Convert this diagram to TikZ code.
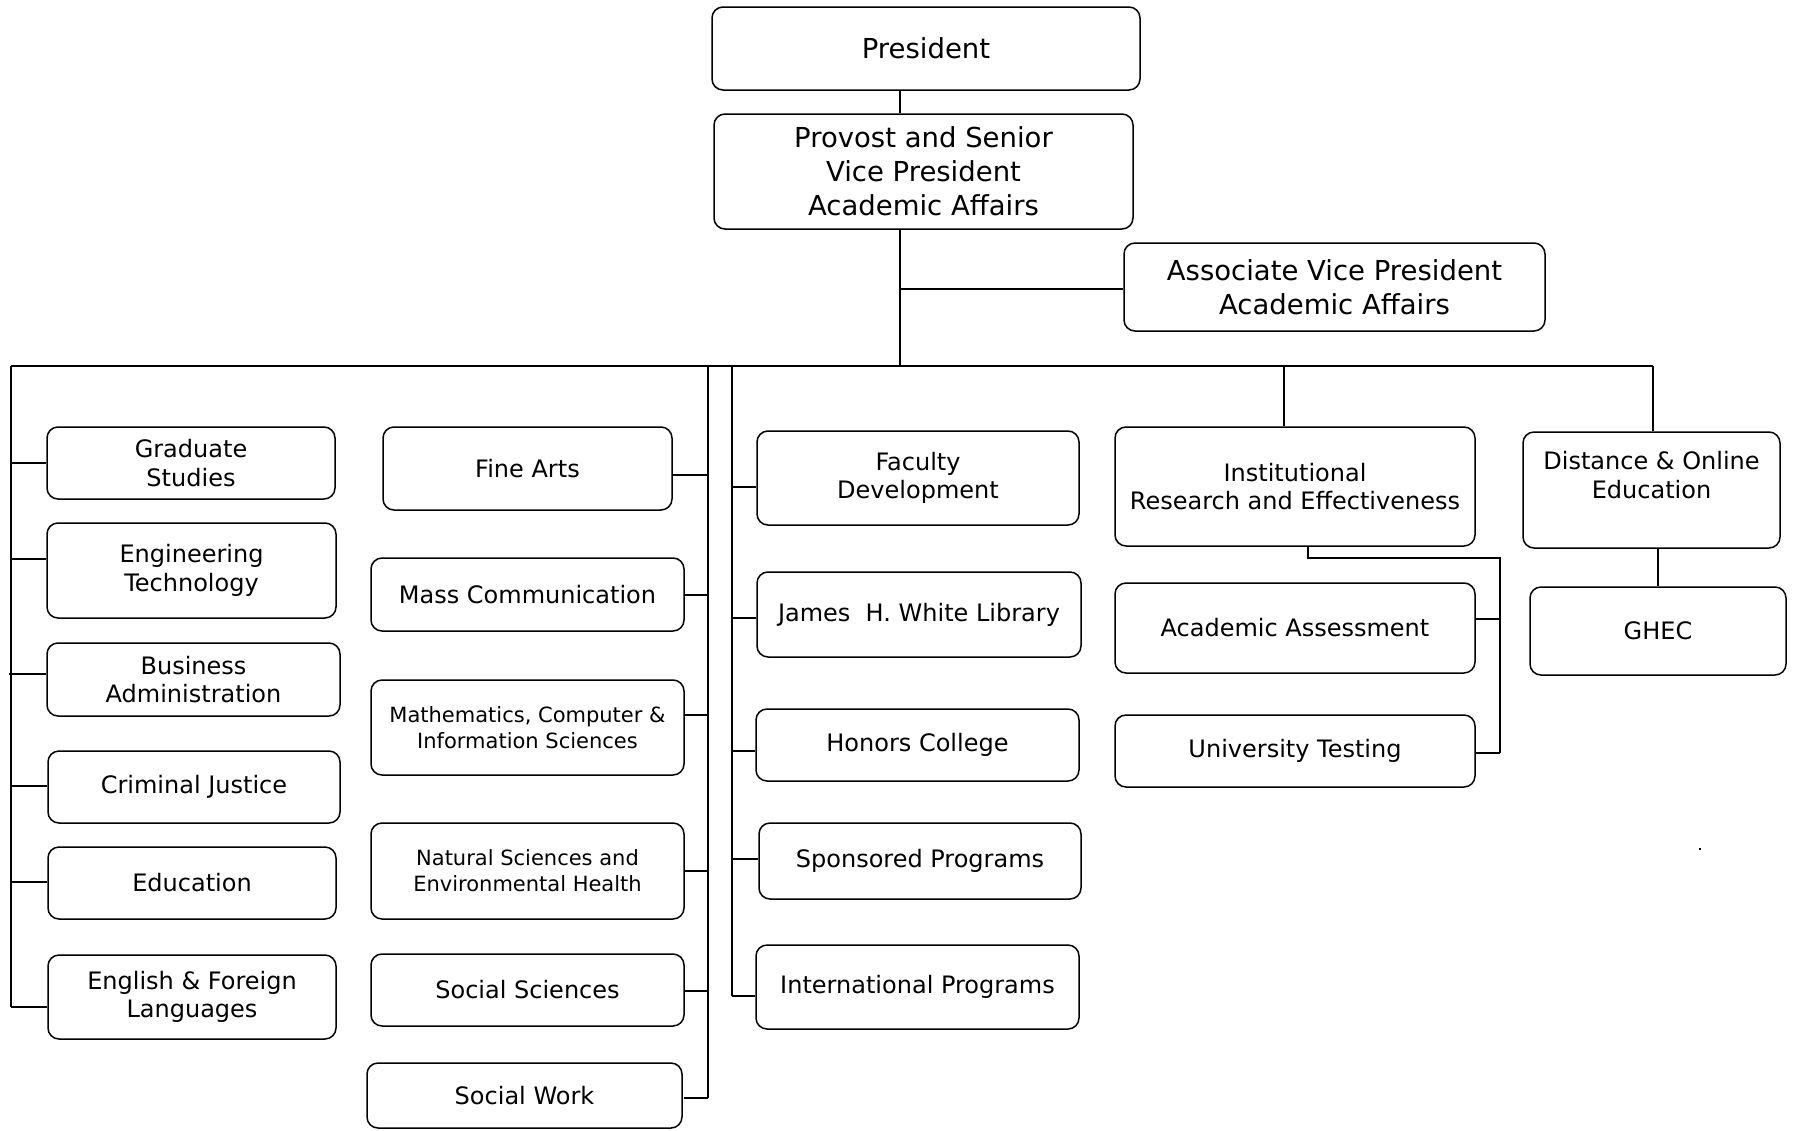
\documentclass[tikz,border=0pt]{standalone}
\usepackage{fontspec}
\setmainfont{DejaVu Sans}
\newcommand\fstd{\fontsize{24}{28.6}\selectfont}
\newcommand\ftop{\fontsize{27.5}{34}\selectfont}
\newcommand\fsml{\fontsize{21}{26.3}\selectfont}
\begin{document}
\begin{tikzpicture}[x=1pt,y=-1pt,line width=1.5pt,
  box/.style={draw, rounded corners=11pt, line width=1.5pt, align=center, inner sep=0pt, font=\fstd},
  topbox/.style={box, font=\ftop},
  smlbox/.style={box, font=\fsml},
  conn/.style={line width=1.5pt}]
\useasboundingbox (0,0) rectangle (1794,1130);
% top
\node[topbox, minimum width=428, minimum height=83] (pres) at (926,48.5) {President};
\node[topbox, minimum width=419, minimum height=115] (prov) at (923.5,171.5) {Provost and Senior\\Vice President\\Academic Affairs};
\node[topbox, minimum width=421, minimum height=88] (avp) at (1334.5,287) {Associate Vice President\\Academic Affairs};
% bus coordinates
\coordinate (busL) at (11,366);
\coordinate (busM) at (900,366);
\coordinate (busR) at (1653,366);
\coordinate (colB) at (708,366);
\coordinate (colC) at (732,366);
% left column
\node[box, minimum width=288, minimum height=72] (grad) at (191,463) {Graduate\\Studies};
\node[box, minimum width=289, minimum height=95] (engt) at (191.5,570.5) {Engineering\\Technology};
\node[box, minimum width=293, minimum height=73] (busa) at (193.5,679.5) {Business\\Administration};
\node[box, minimum width=292, minimum height=72] (crim) at (194,787) {Criminal Justice};
\node[box, minimum width=288, minimum height=72] (educ) at (192,883) {Education};
\node[box, minimum width=288, minimum height=84] (engl) at (192,997) {English \& Foreign\\Languages};
% middle column
\node[box, minimum width=289, minimum height=83] (fine) at (527.5,468.5) {Fine Arts};
\node[box, minimum width=313, minimum height=73] (mass) at (527.5,594.5) {Mass Communication};
\node[smlbox, minimum width=313, minimum height=95] (math) at (527.5,727.5) {Mathematics, Computer \&\\Information Sciences};
\node[smlbox, minimum width=313, minimum height=96] (nat) at (527.5,871) {Natural Sciences and\\Environmental Health};
\node[box, minimum width=313, minimum height=72] (socs) at (527.5,990) {Social Sciences};
\node[box, minimum width=315, minimum height=65] (socw) at (524.5,1095.5) {Social Work};
% third column
\node[box, minimum width=322, minimum height=94] (fac) at (918,478) {Faculty\\Development};
\node[box, minimum width=324, minimum height=85] (lib) at (919,614.5) {James\ \ H. White Library};
\node[box, minimum width=323, minimum height=72] (hon) at (917.5,745) {Honors College};
\node[box, minimum width=322, minimum height=76] (spo) at (920,861) {Sponsored Programs};
\node[box, minimum width=323, minimum height=84] (intl) at (917.5,987) {International Programs};
% right
\node[box, minimum width=360, minimum height=119] (inst) at (1295,486.5) {Institutional\\Research and Effectiveness};
\node[box, minimum width=360, minimum height=90] (acad) at (1295,628) {Academic Assessment};
\node[box, minimum width=360, minimum height=72] (univ) at (1295,751) {University Testing};
\node[box, minimum width=257, minimum height=116] (dist) at (1651.5,490) {};
\node[align=center, font=\fstd] (distt) at (1651.5,475) {Distance \& Online\\Education};
\node[box, minimum width=256, minimum height=88] (ghec) at (1658,631) {GHEC};
% top connectors
\draw[conn] (pres.south -| 900,0) -- (prov.north -| 900,0);
\draw[conn] (prov.south -| busM) -- (busM);
\draw[conn] (900,289) -- (avp.west |- 0,289);
\draw[conn] (busL) -- (busR);
% left column connectors
\draw[conn] (busL) -- (11,1007);
\draw[conn] (busL |- 0,463) -- (grad.west |- 0,463);
\draw[conn] (busL |- 0,559) -- (engt.west |- 0,559);
\draw[conn] (9,674) -- (busa.west |- 0,674);
\draw[conn] (busL |- 0,786) -- (crim.west |- 0,786);
\draw[conn] (busL |- 0,882) -- (educ.west |- 0,882);
\draw[conn] (busL |- 0,1007) -- (engl.west |- 0,1007);
% middle column connectors
\draw[conn] (colB) -- (708,1098);
\draw[conn] (fine.east |- 0,475) -- (colB |- 0,475);
\draw[conn] (mass.east |- 0,595) -- (colB |- 0,595);
\draw[conn] (math.east |- 0,715) -- (colB |- 0,715);
\draw[conn] (nat.east |- 0,871) -- (colB |- 0,871);
\draw[conn] (socs.east |- 0,991) -- (colB |- 0,991);
\draw[conn] (684,1098) -- (colB |- 0,1098);
% third column connectors
\draw[conn] (colC) -- (732,996);
\draw[conn] (colC |- 0,487) -- (fac.west |- 0,487);
\draw[conn] (colC |- 0,618) -- (lib.west |- 0,618);
\draw[conn] (colC |- 0,751) -- (hon.west |- 0,751);
\draw[conn] (colC |- 0,859) -- (spo.west |- 0,859);
\draw[conn] (colC |- 0,996) -- (intl.west |- 0,996);
% right connectors
\draw[conn] (1284,366) -- (inst.north -| 1284,0);
\draw[conn] (busR) -- (dist.north -| busR);
\draw[conn] (dist.south -| 1658,0) -- (ghec.north -| 1658,0);
\draw[conn] (inst.south -| 1308,0) -- (1308,558) -- (1500,558) -- (1500,753);
\draw[conn] (acad.east |- 0,619) -- (1500,619);
\draw[conn] (univ.east |- 0,753) -- (1500,753);
% stray dot
\fill (1699,848) rectangle (1701,850);
\end{tikzpicture}
\end{document}
